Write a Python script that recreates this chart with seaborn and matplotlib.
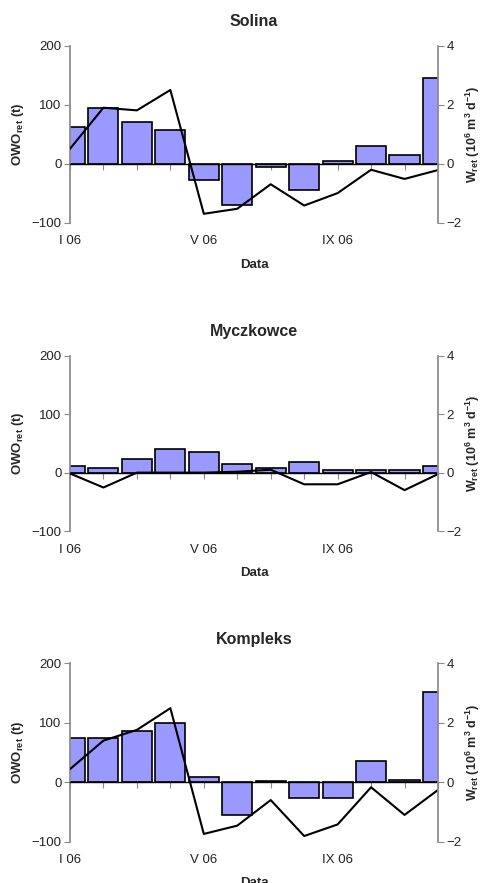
import numpy as np
import pandas as pd
import seaborn as sns
import matplotlib.pyplot as plt

# ------------------ DATA ------------------
MONTHS = list(range(12))               # I .. XII 2006
TICK_POS = [0, 4, 8]
TICK_LABELS = ['I 06', 'V 06', 'IX 06']
TITLES = ['Solina', 'Myczkowce', 'Kompleks']

# OWO_ret (t), bars
solina_owo = [63, 94, 71, 58, -27, -70, -6, -45, 4, 30, 15, 146]
myczk_owo = [11, 8, 24, 40, 35, 15, 8, 19, 4, 4, 4, 12]
kompl_owo = [75, 75, 86, 99, 9, -55, 2, -27, -26, 35, 3, 152]

# W_ret (10^6 m3 d-1), line
solina_w = [0.51, 1.90, 1.81, 2.50, -1.69, -1.52, -0.69, -1.41, -0.99, -0.20, -0.51, -0.21]
myczk_w = [-0.03, -0.51, 0.0, 0.0, 0.0, 0.03, 0.1, -0.40, -0.40, 0.02, -0.60, -0.05]
kompl_w = [0.44, 1.40, 1.76, 2.49, -1.74, -1.46, -0.60, -1.81, -1.42, -0.17, -1.10, -0.26]

BAR_COLOR = '#9999FF'
GREY = '#8a8a8a'
# ------------------------------------------

sns.set_theme(style='ticks')
plt.rcParams['font.family'] = ['Liberation Sans', 'DejaVu Sans']
plt.rcParams['mathtext.default'] = 'regular'


def draw_panel(fig, rect, title, owo, w):
    df = pd.DataFrame({'month': MONTHS, 'owo': owo, 'w': w})
    ax = fig.add_axes(rect)
    sns.barplot(data=df, x='month', y='owo', native_scale=True, width=0.9,
                color=BAR_COLOR, saturation=1, edgecolor='black', linewidth=1.2, ax=ax)
    ax.set_xlim(0, 11)
    ax.set_ylim(-100, 200)
    ax.set_yticks([-100, 0, 100, 200])

    # category axis crossing at zero, month tick marks
    ax.spines['bottom'].set_position(('data', 0))
    ax.spines['bottom'].set_color('black')
    ax.spines['bottom'].set_linewidth(1.0)
    ax.spines['top'].set_visible(False)
    ax.spines['right'].set_visible(False)
    ax.spines['left'].set_color(GREY)
    ax.set_xticks(MONTHS)
    ax.set_xticklabels([])
    ax.tick_params(axis='x', length=4, width=0.8, color=GREY, direction='out')
    ax.tick_params(axis='y', length=4, width=0.8, color=GREY, labelsize=9.5,
                   labelcolor='#222222', pad=2)
    ax.set_xlabel('')
    ax.set_ylabel('OWO$_{ret}$ (t)', fontsize=9.5, fontweight='bold', labelpad=4)
    ax.set_title(title, fontsize=11.5, fontweight='bold', pad=14)

    # date labels at bottom of the plot area
    sec = ax.secondary_xaxis(0)
    sec.set_xticks(TICK_POS)
    sec.set_xticklabels(TICK_LABELS)
    sec.tick_params(length=0, labelsize=9.5, labelcolor='#222222', pad=9)
    sec.spines['bottom'].set_visible(False)
    sec.set_xlabel('Data', fontsize=9.5, fontweight='bold', labelpad=8)

    ax2 = ax.twinx()
    sns.lineplot(data=df, x='month', y='w', color='black', linewidth=1.5, ax=ax2)
    ax2.set_xlim(0, 11)
    ax2.set_ylim(-2, 4)
    ax2.set_yticks([-2, 0, 2, 4])
    for s in ['top', 'left', 'bottom']:
        ax2.spines[s].set_visible(False)
    ax2.spines['right'].set_color(GREY)
    ax2.tick_params(axis='y', length=4, width=0.8, color=GREY, labelsize=9.5,
                    labelcolor='#222222', pad=2)
    ax2.set_ylabel('W$_{ret}$ (10$^{6}$ m$^{3}$ d$^{-1}$)', fontsize=9,
                   fontweight='bold', labelpad=2)
    return ax


fig = plt.figure(figsize=(4.82, 8.83), dpi=100)
rects = [
    [0.1452, 0.7475, 0.7635, 0.2008],
    [0.1452, 0.3986, 0.7635, 0.1985],
    [0.1452, 0.0468, 0.7635, 0.2020],
]
series = [(solina_owo, solina_w), (myczk_owo, myczk_w), (kompl_owo, kompl_w)]
for rect, title, (owo, w) in zip(rects, TITLES, series):
    draw_panel(fig, rect, title, owo, w)

fig.savefig('out.png', dpi=100, facecolor='white')
